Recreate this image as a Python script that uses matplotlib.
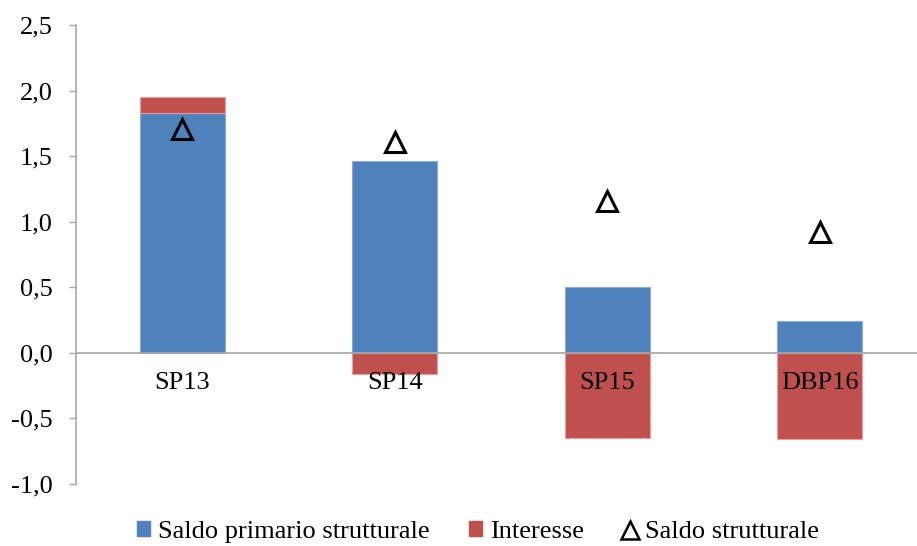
import matplotlib
matplotlib.use("Agg")
import matplotlib.pyplot as plt
from matplotlib.patches import Patch
from matplotlib.lines import Line2D
from matplotlib.ticker import FuncFormatter

plt.rcParams['font.family'] = ['Liberation Serif', 'DejaVu Serif']

categories = ["SP13", "SP14", "SP15", "DBP16"]
saldo_primario = [1.83, 1.46, 0.50, 0.24]
interesse = [0.12, -0.16, -0.65, -0.66]
saldo_strutturale = [1.71, 1.61, 1.16, 0.92]
y_ticks = [-1.0, -0.5, 0.0, 0.5, 1.0, 1.5, 2.0, 2.5]

blue = "#4F81BD"
red = "#C0504D"
grey = "#A6A6A6"

fig = plt.figure(figsize=(9.17, 5.46), dpi=100)
ax = fig.add_axes([76 / 917, 62 / 546, 850 / 917, 459 / 546])

x = list(range(len(categories)))
width = 0.40

ax.bar(x, saldo_primario, width, color=blue, edgecolor="#8EAADB", linewidth=0.8, zorder=2)
# interest bars stack on the positive primary balance, or hang below zero
bottoms = [p if i > 0 else 0 for p, i in zip(saldo_primario, interesse)]
ax.bar(x, interesse, width, bottom=bottoms, color=red, edgecolor="#E6A09E", linewidth=0.8, zorder=2)

ax.plot(x, saldo_strutturale, linestyle="none", marker="^", markersize=15,
        markerfacecolor="none", markeredgecolor="black", markeredgewidth=2.2, zorder=4)

ax.set_xlim(-0.5, 3.5)
ax.set_ylim(-1.0, 2.5)
ax.set_yticks(y_ticks)
ax.yaxis.set_major_formatter(FuncFormatter(lambda v, p: f"{v:.1f}".replace(".", ",")))
ax.tick_params(axis="y", direction="out", length=5, width=1, color=grey,
               labelsize=19, pad=12, labelcolor="black")
ax.set_xticks([])

for side in ("top", "right", "bottom"):
    ax.spines[side].set_visible(False)
ax.spines["left"].set_color(grey)
ax.spines["left"].set_linewidth(1.2)
ax.axhline(0, color=grey, linewidth=1.2, zorder=3)

for xi, name in zip(x, categories):
    ax.annotate(name, xy=(xi, 0), xytext=(0, -22), textcoords="offset points",
                ha="center", va="center", fontsize=19, zorder=5)

handles = [
    Patch(facecolor=blue, edgecolor=blue),
    Patch(facecolor=red, edgecolor=red),
    Line2D([], [], linestyle="none", marker="^", markersize=13,
           markerfacecolor="none", markeredgecolor="black", markeredgewidth=1.8),
]
labels = ["Saldo primario strutturale", "Interesse", "Saldo strutturale"]
fig.legend(handles, labels, loc="lower center", bbox_to_anchor=(0.521, -0.038),
           ncol=3, frameon=False, fontsize=19, handlelength=0.5, handleheight=0.5,
           handletextpad=0.3, columnspacing=1.5)

fig.savefig("out.png", dpi=100)
